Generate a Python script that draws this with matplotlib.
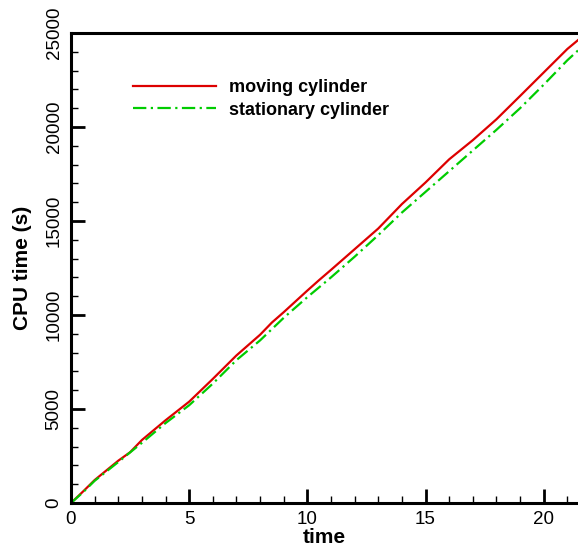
import matplotlib
matplotlib.use("Agg")
import matplotlib.pyplot as plt
from matplotlib.ticker import MultipleLocator

plt.rcParams.update({"font.family": ["Liberation Sans", "DejaVu Sans"]})

# moving cylinder run
t_moving = [0, 0.5, 1, 2, 2.5, 3, 4, 5, 6, 7, 8, 8.5, 9, 10, 10.5, 11, 12,
            13, 14, 15, 16, 17, 18, 19, 20, 21, 21.45]
cpu_moving = [0, 600, 1220, 2250, 2700, 3350, 4400, 5390, 6600, 7850, 8950,
              9600, 10150, 11300, 11860, 12400, 13500, 14600, 15900, 17050,
              18280, 19300, 20410, 21650, 22900, 24150, 24620]

# stationary cylinder run
t_stat = [0, 0.5, 1, 2, 3, 4, 5, 6, 7, 8, 9, 10, 11, 12, 13, 14, 15, 16, 17,
          18, 19, 20, 21, 21.45]
cpu_stat = [0, 560, 1180, 2180, 3200, 4250, 5200, 6350, 7600, 8650, 9850,
            10950, 12000, 13100, 14250, 15450, 16550, 17650, 18750, 19850,
            21000, 22250, 23550, 24070]

fig = plt.figure(figsize=(5.78, 5.47), dpi=100)
ax = fig.add_axes([0.1228, 0.0804, 0.8772, 0.8593])

ax.plot(t_moving, cpu_moving, color="#dd0000", lw=1.6, label="moving cylinder")
ax.plot(t_stat, cpu_stat, color="#00cc00", lw=1.6, dashes=(6, 2, 1, 2),
        label="stationary cylinder")

ax.set_xlim(0, 21.45)
ax.set_ylim(0, 25000)
ax.xaxis.set_major_locator(MultipleLocator(5))
ax.xaxis.set_minor_locator(MultipleLocator(1))
ax.yaxis.set_major_locator(MultipleLocator(5000))
ax.yaxis.set_minor_locator(MultipleLocator(1000))

ax.spines["right"].set_visible(False)
for s in ("left", "bottom", "top"):
    ax.spines[s].set_linewidth(2.2)

ax.tick_params(which="major", direction="in", length=10, width=2, labelsize=13.5, pad=6)
ax.tick_params(which="minor", direction="in", length=5, width=1)
ax.tick_params(axis="both", which="both", top=False, right=False)
for lab in ax.get_yticklabels():
    lab.set_rotation(90)
    lab.set_va("center")

ax.set_xlabel("time", fontsize=15, fontweight="bold", labelpad=0)
ax.set_ylabel("CPU time (s)", fontsize=15, fontweight="bold", labelpad=10)

leg = ax.legend(loc="upper left", bbox_to_anchor=(0.09, 0.936), frameon=False,
                prop={"size": 13, "weight": "bold"}, handlelength=4.6,
                handletextpad=0.7, labelspacing=0.3)

fig.savefig("out.png", dpi=100)
